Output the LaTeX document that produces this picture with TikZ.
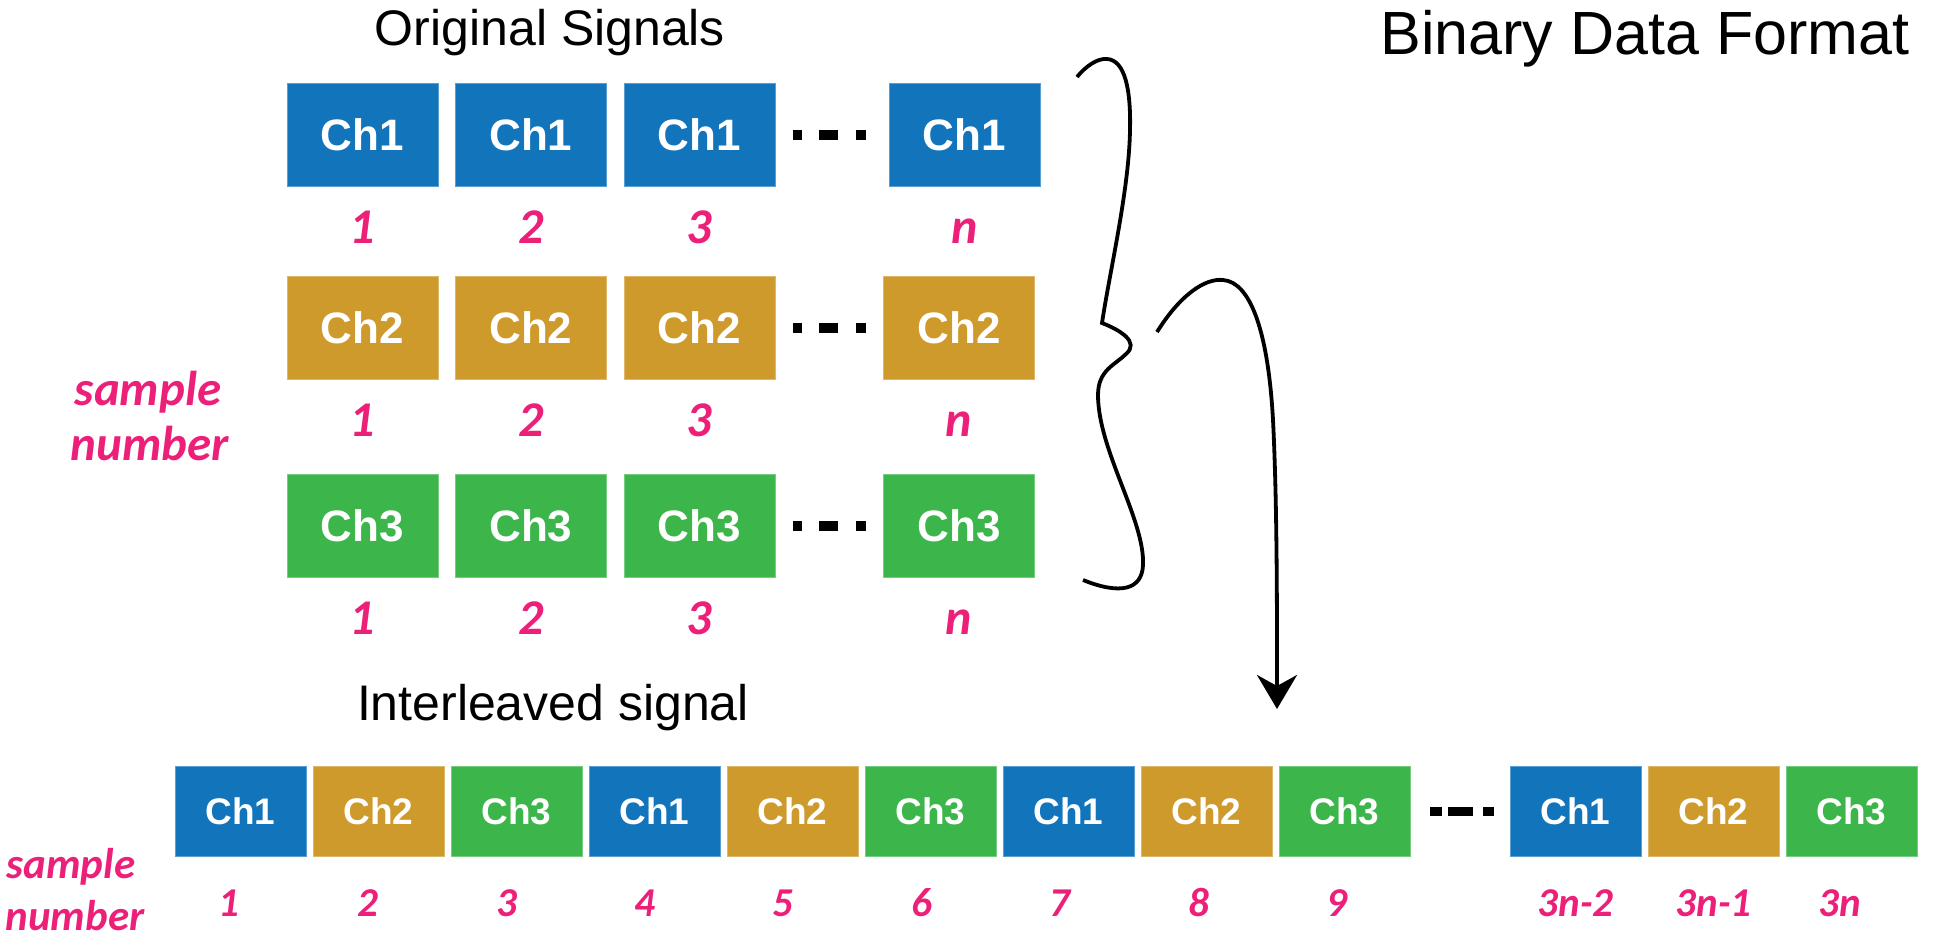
\documentclass[tikz,border=0pt]{standalone}
\usepackage{fontspec}
\setmainfont{Liberation Sans}
\newfontfamily\samplefont{Carlito}
\usetikzlibrary{positioning, arrows.meta}

\definecolor{chblue}{HTML}{1275BC}
\definecolor{chgold}{HTML}{CF9A2C}
\definecolor{chgreen}{HTML}{3CB64A}
\definecolor{numpink}{HTML}{EC2079}

\begin{document}
\begin{tikzpicture}[x=1pt, y=-1pt, node distance=17pt]
    \tikzstyle{sigbox} = [rectangle, inner sep=0pt, minimum width=151pt, minimum height=103pt,
                          text=white, font=\fontsize{44}{50}\selectfont\bfseries]
    \tikzstyle{ilvbox} = [rectangle, inner sep=0pt, minimum width=131pt, minimum height=90pt,
                          text=white, font=\fontsize{37}{42}\selectfont\bfseries]
    \tikzstyle{signum} = [inner sep=0pt, anchor=base, text=numpink,
                          font=\samplefont\bfseries\itshape\fontsize{50}{56}\selectfont]
    \tikzstyle{ilvnum} = [signum, font=\samplefont\bfseries\itshape\fontsize{41}{46}\selectfont]
    \tikzstyle{heading} = [inner sep=0pt, anchor=base, font=\fontsize{50}{56}\selectfont]
    \tikzstyle{gapdots} = [line width=10pt, dash pattern=on 9pt off 17pt on 19pt off 18pt on 10pt]
    \tikzstyle{ilvdots} = [line width=9pt, dash pattern=on 12pt off 6pt on 25pt off 10pt on 11pt]
    \tikzstyle{curve} = [line width=3.8pt]

    \useasboundingbox (0,0) rectangle (1934,945);

    % titles
    \node [heading] (orig) at (550,45.5) {Original Signals};
    \node [heading, font=\fontsize{61}{70}\selectfont] (title) at (1645,54) {Binary Data Format};
    \node [heading] (ilv) at (553,720) {Interleaved signal};

    % original signals, one row per channel
    \foreach \r/\y/\col/\lastx in {1/134.5/chblue/964.5, 2/328/chgold/959, 3/526/chgreen/959} {
        \node [sigbox, fill=\col, draw=\col!70!white] (s\r-1) at (362.5,\y) {Ch\r};
        \node [sigbox, fill=\col, draw=\col!70!white, right=of s\r-1] (s\r-2) {Ch\r};
        \node [sigbox, fill=\col, draw=\col!70!white, right=of s\r-2] (s\r-3) {Ch\r};
        \node [sigbox, fill=\col, draw=\col!70!white] (s\r-n) at (\lastx,\y) {Ch\r};
        \draw [gapdots] ([xshift=18pt]s\r-3.east) -- ++(73,0);
        \foreach \k in {1, 2, 3, n}
            \node [signum] (n\r-\k) at ([yshift=-57pt]s\r-\k.south) {\k};
    }

    \node [signum, font=\samplefont\bfseries\itshape\fontsize{49}{56}\selectfont] (smp1) at (148,405) {sample};
    \node [signum, font=\samplefont\bfseries\itshape\fontsize{49}{56}\selectfont] (nbr1) at (150,460) {number};

    % interleaved signal
    \foreach \i/\col/\ch/\x in {1/chblue/1/240.5, 2/chgold/2/378.5, 3/chgreen/3/516.5,
                                4/chblue/1/654.5, 5/chgold/2/792.5, 6/chgreen/3/930.5,
                                7/chblue/1/1068.5, 8/chgold/2/1206.5, 9/chgreen/3/1344.5,
                                10/chblue/1/1575.5, 11/chgold/2/1713.5, 12/chgreen/3/1851.5}
        \node [ilvbox, fill=\col, draw=\col!70!white] (i\i) at (\x,811.5) {Ch\ch};
    \draw [ilvdots] ([xshift=20pt]i9.east) -- ++(64,0);

    \foreach \i/\lab/\dx in {1/1/-12, 2/2/-11, 3/3/-10, 4/4/-10, 5/5/-10, 6/6/-9,
                             7/7/-9, 8/8/-8, 9/9/-8, 10/3n-2/0, 11/3n-1/0, 12/3n/-12}
        \node [ilvnum] (m\i) at ([xshift=\dx pt, yshift=-60pt]i\i.south) {\lab};

    \node [ilvnum, font=\samplefont\bfseries\itshape\fontsize{43}{48}\selectfont] (smp2) at (71,878) {sample};
    \node [ilvnum, font=\samplefont\bfseries\itshape\fontsize{43}{48}\selectfont] (nbr2) at (75,930) {number};

    % brace and arrow
    \draw [curve] (1077,77) .. controls (1085,67) and (1097,58) .. (1107,59)
        .. controls (1125,60) and (1131,90) .. (1130,130)
        .. controls (1129,190) and (1110,270) .. (1102,323)
        .. controls (1120,330) and (1140,342) .. (1126,354)
        .. controls (1115,365) and (1098,370) .. (1098,395)
        .. controls (1098,450) and (1145,520) .. (1143,565)
        .. controls (1142,590) and (1120,595) .. (1083,580);

    \coordinate (arrstart) at (1157,332);
    \coordinate (arrend) at (1277,709);
    \draw [curve, -{Stealth[length=34pt, width=40pt, inset=11pt]}] (arrstart)
        .. controls (1180,295) and (1205,278) .. (1223,280)
        .. controls (1250,282) and (1268,330) .. (1273,420)
        .. controls (1277,500) and (1277,600) .. (arrend);
\end{tikzpicture}
\end{document}
